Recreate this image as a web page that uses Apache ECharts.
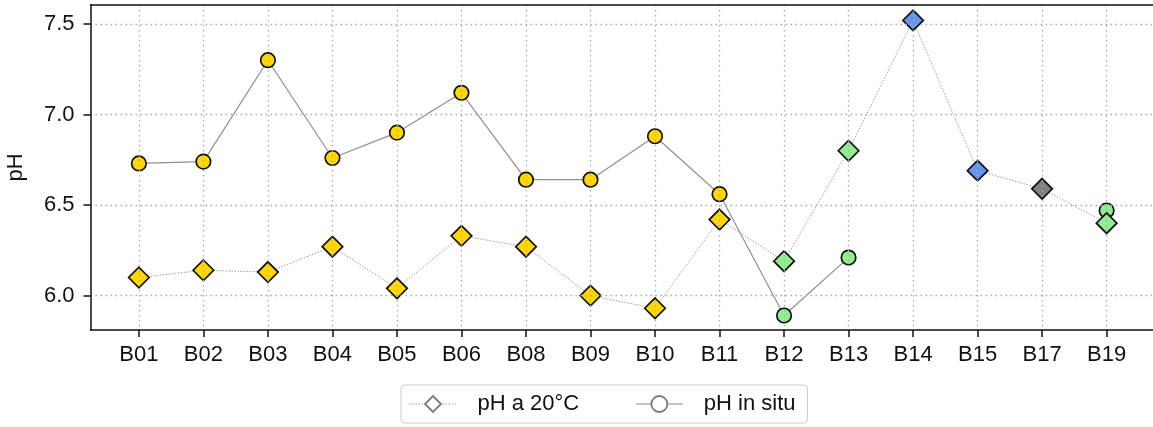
<!DOCTYPE html>
<html>
<head>
<meta charset="utf-8">
<title>pH per stazione</title>
<script src="https://cdn.jsdelivr.net/npm/echarts@6/dist/echarts.min.js"></script>
<style>
  html, body { margin: 0; padding: 0; background: #fff; }
  #chart { width: 1153px; height: 427px; }
</style>
</head>
<body>
<div id="chart"></div>
<script>
// Sampling stations along the x axis
const sites = ['B01', 'B02', 'B03', 'B04', 'B05', 'B06', 'B08', 'B09',
               'B10', 'B11', 'B12', 'B13', 'B14', 'B15', 'B17', 'B19'];

// pH measured in the lab at 20 °C
const phLab = [6.10, 6.14, 6.13, 6.27, 6.04, 6.33, 6.27, 6.00,
               5.93, 6.42, 6.19, 6.80, 7.52, 6.69, 6.59, 6.40];

// pH measured in the field (missing where not taken)
const phInSitu = [6.73, 6.74, 7.30, 6.76, 6.90, 7.12, 6.64, 6.64,
                  6.88, 6.56, 5.89, 6.21, null, null, null, 6.47];

// Group of each station, used for marker fill
const siteGroup = ['A', 'A', 'A', 'A', 'A', 'A', 'A', 'A',
                   'A', 'A', 'B', 'B', 'C', 'C', 'D', 'B'];

// Tick values on the y axis
const yTicks = [6.0, 6.5, 7.0, 7.5];

const groupColors = { A: '#FFD700', B: '#90EE90', C: '#6495ED', D: '#808080' };

const FONT = '"Liberation Sans", Arial, sans-serif';
const TXT = '#111';
const GRID_LINE = { color: '#ababab', type: [1.6, 3.4], width: 1.3 };
const SPINE = { color: '#111', width: 1.5 };

const X_MIN = -0.75, X_MAX = 15.75;

function points(values) {
  return values.map((v, i) => ({
    value: [i, v],
    itemStyle: { color: groupColors[siteGroup[i]] }
  }));
}

const chart = echarts.init(document.getElementById('chart'), null, { renderer: 'canvas' });

chart.setOption({
  animation: false,
  backgroundColor: '#fff',
  textStyle: { fontFamily: FONT },
  grid: {
    left: 90.5, top: 5, right: -2, bottom: 97,
    outerBoundsMode: 'none',
    containLabel: false,
    show: false
  },
  xAxis: [
    {
      type: 'value',
      min: X_MIN, max: X_MAX,
      z: 5,
      axisLine: { show: true, onZero: false, lineStyle: SPINE },
      axisTick: {
        show: true, length: 7, lineStyle: SPINE,
        customValues: sites.map((s, i) => i)
      },
      axisLabel: {
        customValues: sites.map((s, i) => i),
        formatter: v => sites[Math.round(v)] || '',
        fontSize: 22, color: TXT, fontFamily: FONT, margin: 14
      },
      splitLine: { show: true, lineStyle: GRID_LINE }
    },
    {
      // top frame line only
      type: 'value',
      position: 'top',
      min: X_MIN, max: X_MAX,
      z: 5,
      axisLine: { show: true, onZero: false, lineStyle: SPINE },
      axisTick: { show: false },
      axisLabel: { show: false },
      splitLine: { show: false }
    }
  ],
  yAxis: {
    type: 'value',
    min: 5.81, max: 7.605,
    z: 5,
    name: 'pH', nameLocation: 'middle', nameGap: 64, nameRotate: 90,
    nameTextStyle: { fontSize: 22, color: TXT, fontFamily: FONT },
    axisLine: { show: true, onZero: false, lineStyle: SPINE },
    axisTick: {
      show: true, length: 7, lineStyle: SPINE,
      customValues: yTicks
    },
    axisLabel: {
      customValues: yTicks,
      formatter: v => v.toFixed(1),
      fontSize: 22, color: TXT, fontFamily: FONT, margin: 16
    },
    splitLine: { show: true, lineStyle: GRID_LINE }
  },
  legend: {
    left: 401, top: 385,
    orient: 'horizontal',
    padding: [8, 12, 8, 8],
    itemWidth: 47, itemHeight: 20, itemGap: 56,
    borderColor: '#cccccc', borderWidth: 1, borderRadius: 4,
    backgroundColor: '#fff',
    textStyle: { fontSize: 22, color: TXT, fontFamily: FONT, padding: [0, 0, 0, 16] },
    data: [
      {
        name: 'pH a 20°C',
        itemStyle: { color: '#fff', borderColor: '#7a7a7a', borderWidth: 1.8 },
        lineStyle: { color: '#a0a0a0', type: [1.5, 1.5], width: 1 }
      },
      {
        name: 'pH in situ',
        itemStyle: { color: '#fff', borderColor: '#7a7a7a', borderWidth: 1.8 },
        lineStyle: { color: '#8c8c8c', type: 'solid', width: 1.2 }
      }
    ]
  },
  series: [
    {
      name: 'pH in situ',
      type: 'line',
      data: points(phInSitu),
      connectNulls: false,
      symbol: 'circle',
      symbolSize: 14.5,
      lineStyle: { color: '#8f8f8f', width: 1.2, type: 'solid' },
      itemStyle: { borderColor: '#111', borderWidth: 1.7 },
      z: 3
    },
    {
      name: 'pH a 20°C',
      type: 'line',
      data: points(phLab),
      symbol: 'diamond',
      symbolSize: 20.5,
      lineStyle: { color: '#a0a0a0', width: 1, type: [1.5, 1.5] },
      itemStyle: { borderColor: '#111', borderWidth: 1.7 },
      z: 4
    }
  ]
});
</script>
</body>
</html>
